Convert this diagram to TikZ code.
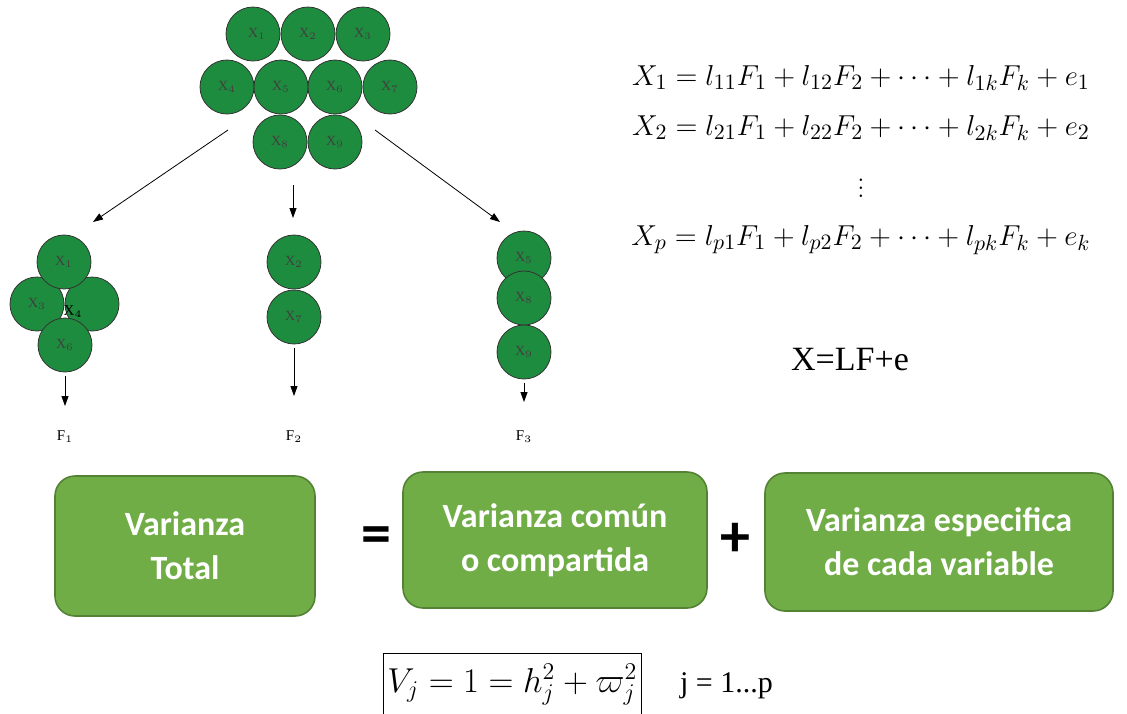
\documentclass[tikz,border=0pt]{standalone}
\usepackage{amsmath, amssymb}
\usepackage{fontspec}
\usepackage{xcolor}
\usepackage{tikz}
\usetikzlibrary{arrows.meta, positioning}
\newfontfamily\boxfont{Carlito}
\newfontfamily\serif{Liberation Serif}
\definecolor{ballgreen}{RGB}{30,140,62}
\definecolor{boxgreen}{RGB}{112,173,71}
\definecolor{boxedge}{RGB}{84,130,53}

\begin{document}
\begin{tikzpicture}[x=0.5pt, y=-0.5pt,
        ball/.style={circle, draw=black!80, fill=ballgreen, minimum size=27pt, inner sep=0pt,
            font=\serif\fontsize{7}{8}\selectfont, text=black!75},
        arrow/.style={-{Triangle[length=5pt, width=3.5pt]}, thin},
        fac/.style={font=\serif\fontsize{7.5}{8}\selectfont},
        eq/.style={font=\fontsize{15.4}{18}\selectfont},
        vbox/.style={rectangle, rounded corners=10pt, draw=boxedge, thick, fill=boxgreen, text=white,
            align=center, font=\boxfont\bfseries\fontsize{17}{22}\selectfont},
        sign/.style={font=\boxfont\bfseries\fontsize{30}{30}\selectfont}
    ]
        \useasboundingbox (0,0) rectangle (1127,713);

        % all variables
        \node[ball] (t1) at (253,34) {\hspace{4pt}X$_1$};
        \node[ball] (t2) at (308,34) {X$_2$};
        \node[ball] (t3) at (363,34) {X$_3$};
        \node[ball] (t4) at (227,87) {X$_4$};
        \node[ball] (t5) at (281,87) {X$_5$};
        \node[ball] (t6) at (335,87) {X$_6$};
        \node[ball] (t7) at (390,87) {X$_7$};
        \node[ball] (t8) at (280,142) {X$_8$};
        \node[ball] (t9) at (335,142) {X$_9$};

        % first factor
        \node[ball] (l3) at (37,304) {X$_3$};
        \node[ball] (l4) at (92,304) {};
        \node[ball] (l1) at (64,262) {X$_1$};
        \node[ball] (l6) at (65,345) {X$_6$};
        \node[fac] at (73,312) {X$_4$};
        \node[fac] (f1) at (65,437) {F$_1$};

        % second factor
        \node[ball] (m2) at (294,262) {X$_2$};
        \node[ball] (m7) at (294,317) {X$_7$};
        \node[fac] (f2) at (294,437) {F$_2$};

        % third factor
        \node[ball] (r5) at (524,258) {X$_5$};
        \node[ball] (r8) at (524,298) {X$_8$};
        \node[ball] (r9) at (524,352) {X$_9$};
        \node[fac] (f3) at (524,437) {F$_3$};

        \coordinate (sl) at (228,130);
        \coordinate (el) at (93,222);
        \coordinate (sm) at (293,185);
        \coordinate (em) at (293,218);
        \coordinate (sr) at (375,130);
        \coordinate (er) at (500,222);
        \draw[arrow] (sl) -- (el);
        \draw[arrow] (sm) -- (em);
        \draw[arrow] (sr) -- (er);
        \draw[arrow, shorten <=2pt, shorten >=9pt] (l6.south) -- (f1.north);
        \draw[arrow, shorten <=2pt, shorten >=14pt] (m7.south) -- (f2.north);
        \draw[arrow, shorten <=2pt, shorten >=11pt] (r9.south) -- (f3.north);

        % model
        \node[eq] (e1) at (861,78) {$X_1 = l_{11}F_1 + l_{12}F_2 + \cdots + l_{1k}F_k + e_1$};
        \node[eq] (e2) at (861,128) {$X_2 = l_{21}F_1 + l_{22}F_2 + \cdots + l_{2k}F_k + e_2$};
        \node[eq] (e3) at (861,182) {$\vdots$};
        \node[eq] (e4) at (861,240) {$X_p = l_{p1}F_1 + l_{p2}F_2 + \cdots + l_{pk}F_k + e_k$};
        \node[font=\serif\fontsize{17}{20}\selectfont] (lf) at (850,360) {X=LF+e};

        % variance
        \node[vbox, minimum width=130pt, minimum height=70pt] (vt) at (185,546) {Varianza\\Total};
        \node[vbox, minimum width=152pt, minimum height=68pt] (vc) at (555,540) {Varianza común\\o compartida};
        \node[vbox, minimum width=174pt, minimum height=69pt] (ve) at (939,542) {Varianza especifica\\de cada variable};
        \node[sign] (eqsign) at (376,540) {=};
        \node[sign] (plus) at (735,540) {+};

        \node[font=\fontsize{17}{20}\selectfont, draw, inner ysep=0pt, inner xsep=2pt, text height=19.5pt, text depth=30pt,
            anchor=base west] (vj) at (383,692) {$V_j = 1 = h_j^2 + \varpi_j^2$};
        \node[font=\serif\fontsize{15}{18}\selectfont, anchor=base west] (jp) at (673,692) {j = 1...p};
\end{tikzpicture}
\end{document}
